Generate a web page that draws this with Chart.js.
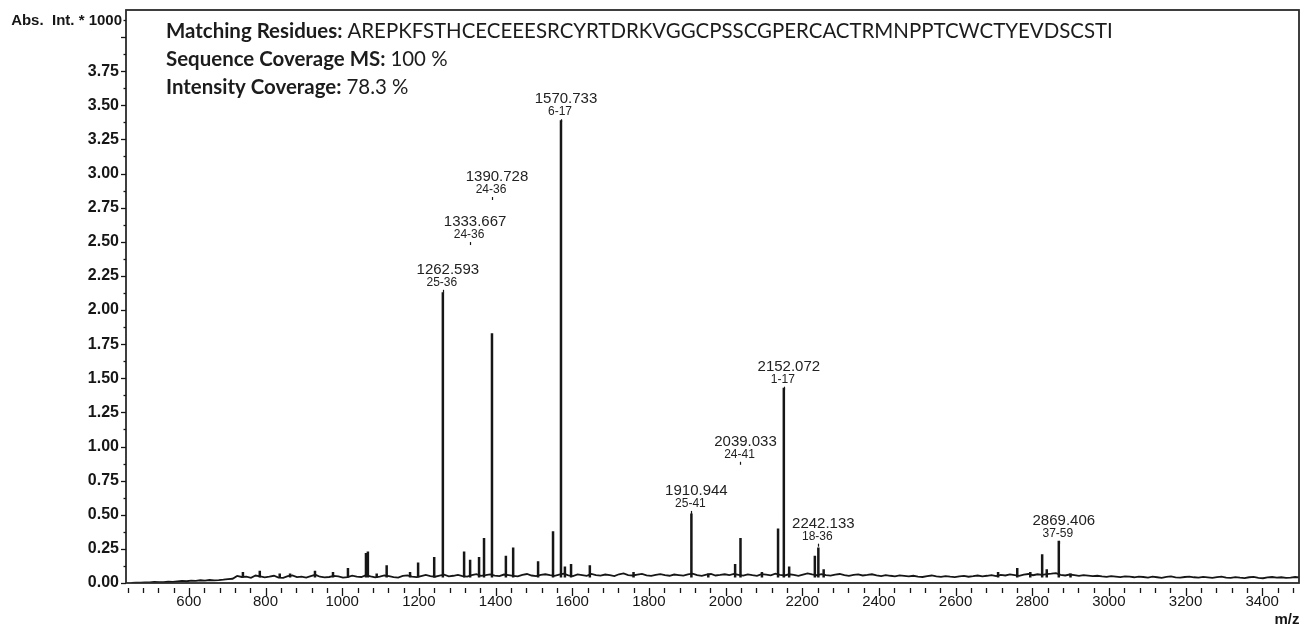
<!DOCTYPE html>
<html>
<head>
<meta charset="UTF-8">
<title>MS spectrum</title>
<style>
    html, body { margin:0; padding:0; background:#fff; }
    #wrap { width:1306px; height:627px; }
</style>
</head>
<body>
<div id="wrap"><canvas id="spec" width="1306" height="627"></canvas></div>

<script src="https://cdn.jsdelivr.net/npm/chart.js@4.4.1/dist/chart.umd.min.js"></script>
<script>
    // labelled ticks
    const xTickLabels = [600, 800, 1000, 1200, 1400, 1600, 1800, 2000, 2200, 2400, 2600, 2800, 3000, 3200, 3400];
    const yTickLabels = ['0.00', '0.25', '0.50', '0.75', '1.00', '1.25', '1.50', '1.75', '2.00',
                         '2.25', '2.50', '2.75', '3.00', '3.25', '3.50', '3.75'];

    // noise trace, one value every 12 m/z from 450
    const traceStart = 450, traceStep = 12;
    const traceInt = [
        0.000,0.002,0.003,0.005,0.004,0.008,0.006,0.007,0.009,0.008,
        0.012,0.015,0.013,0.018,0.016,0.020,0.017,0.022,0.019,0.021,
        0.024,0.028,0.031,0.052,0.044,0.047,0.038,0.055,0.049,0.041,
        0.046,0.053,0.040,0.037,0.050,0.056,0.043,0.047,0.039,0.051,
        0.060,0.046,0.041,0.044,0.052,0.048,0.039,0.043,0.054,0.047,
        0.044,0.058,0.049,0.041,0.046,0.055,0.050,0.043,0.040,0.052,
        0.056,0.047,0.043,0.051,0.059,0.050,0.046,0.054,0.061,0.049,
        0.053,0.060,0.051,0.047,0.058,0.065,0.052,0.057,0.063,0.054,
        0.050,0.062,0.058,0.053,0.048,0.060,0.066,0.055,0.051,0.059,
        0.064,0.057,0.052,0.061,0.068,0.056,0.050,0.063,0.058,0.053,
        0.066,0.058,0.054,0.062,0.057,0.051,0.064,0.070,0.058,0.055,
        0.061,0.067,0.056,0.052,0.060,0.065,0.057,0.053,0.062,0.058,
        0.054,0.063,0.068,0.057,0.052,0.061,0.066,0.055,0.059,0.064,
        0.058,0.066,0.060,0.054,0.063,0.057,0.052,0.065,0.061,0.056,
        0.068,0.060,0.055,0.064,0.059,0.053,0.062,0.070,0.063,0.057,
        0.065,0.058,0.054,0.061,0.066,0.057,0.052,0.060,0.063,0.055,
        0.059,0.064,0.056,0.051,0.058,0.053,0.049,0.056,0.052,0.048,
        0.053,0.047,0.044,0.051,0.055,0.048,0.045,0.050,0.046,0.043,
        0.049,0.052,0.046,0.050,0.055,0.049,0.053,0.058,0.051,0.060,
        0.055,0.063,0.058,0.052,0.061,0.066,0.057,0.064,0.060,0.065,
        0.068,0.072,0.060,0.055,0.062,0.057,0.052,0.058,0.054,0.050,
        0.053,0.048,0.045,0.051,0.047,0.043,0.049,0.046,0.042,0.047,
        0.044,0.040,0.046,0.042,0.038,0.045,0.048,0.041,0.039,0.044,
        0.047,0.042,0.039,0.045,0.041,0.037,0.043,0.046,0.040,0.038,
        0.043,0.039,0.036,0.042,0.045,0.038,0.035,0.041,0.044,0.039,
        0.042,0.037,0.040,0.044,0.041
    ];

    // peak sticks (m/z, intensity * 1000)
    const peakMz  = [741, 785, 837, 864, 929, 976, 1015, 1062, 1067, 1090, 1116, 1177, 1198, 1240,
                     1262.593, 1318, 1333.667, 1357, 1370, 1390.728, 1427, 1446, 1511, 1550, 1570.733,
                     1581, 1597, 1646, 1760, 1910.944, 1955, 2025, 2039.033, 2095, 2137, 2152.072,
                     2166, 2233, 2242.133, 2256, 2711, 2761, 2795, 2826, 2838, 2869.406, 2900];
    const peakInt = [0.08, 0.09, 0.07, 0.07, 0.09, 0.08, 0.11, 0.22, 0.23, 0.07, 0.13, 0.08, 0.15, 0.19,
                     2.13, 0.23, 0.17, 0.19, 0.33, 1.83, 0.20, 0.26, 0.16, 0.38, 3.39,
                     0.12, 0.14, 0.13, 0.08, 0.51, 0.07, 0.14, 0.33, 0.08, 0.40, 1.43,
                     0.12, 0.20, 0.26, 0.10, 0.08, 0.11, 0.08, 0.21, 0.10, 0.31, 0.07];
    const stickFoot = 0.04;

    // annotated peaks
    const annMz    = [1262.593, 1333.667, 1390.728, 1570.733, 1910.944, 2039.033, 2152.072, 2242.133, 2869.406];
    const annRange = ['25-36', '24-36', '24-36', '6-17', '25-41', '24-41', '1-17', '18-36', '37-59'];
    const annLevel = [2.17, 2.52, 2.85, 3.42, 0.55, 0.91, 1.46, 0.31, 0.33];

    const headerLines = [
        ['Matching Residues: ', 'AREPKFSTHCECEEESRCYRTDRKVGGCPSSCGPERCACTRMNPPTCWCTYEVDSCSTI'],
        ['Sequence Coverage MS: ', '100 %'],
        ['Intensity Coverage: ', '78.3 %']
    ];
    const yTitle = 'Abs.  Int. * 1000';
    const xTitle = 'm/z';

    const xMinorStep = 40, xMinorFrom = 440;
    const yMinorStep = 0.125;
    const ink = '#161616';
    const sans = '"Liberation Sans", Arial, sans-serif';

    var traceData = traceInt.map(function(v, i) { return {x: traceStart + i * traceStep, y: v}; });
    var stickData = [];
    for (var i = 0; i < peakMz.length; i++) {
        stickData.push({x: peakMz[i], y: stickFoot});
        stickData.push({x: peakMz[i], y: peakInt[i]});
        stickData.push({x: peakMz[i], y: null});
    }

    const decorPlugin = {
        id: 'decor',
        afterDraw: function(chart) {
            var ctx = chart.ctx, a = chart.chartArea;
            var xs = chart.scales.x, ys = chart.scales.y;
            ctx.save();

            // frame
            ctx.strokeStyle = '#2b2b2b';
            ctx.lineWidth = 1.8;
            ctx.strokeRect(a.left, a.top, a.right - a.left, a.bottom - a.top);

            // y tick marks
            ctx.lineWidth = 1.3;
            ctx.strokeStyle = ink;
            for (var k = 0; k * yMinorStep <= ys.max; k++) {
                var py = Math.round(ys.getPixelForValue(k * yMinorStep)) + 0.5;
                var len = (k % 2 === 0) ? 5 : 2.5;
                ctx.beginPath();
                ctx.moveTo(a.left - len, py);
                ctx.lineTo(a.left, py);
                ctx.stroke();
            }
            // x tick marks
            for (var v = xMinorFrom; v <= xs.max; v += xMinorStep) {
                var px = Math.round(xs.getPixelForValue(v)) + 0.5;
                var major = (v % 200 === 0);
                ctx.beginPath();
                ctx.moveTo(px, a.bottom + 5);
                ctx.lineTo(px, a.bottom + (major ? 13 : 10));
                ctx.stroke();
            }

            // peak annotations
            ctx.fillStyle = '#222';
            ctx.textAlign = 'center';
            ctx.textBaseline = 'alphabetic';
            for (var j = 0; j < annMz.length; j++) {
                var ax = xs.getPixelForValue(annMz[j]);
                var ay = ys.getPixelForValue(annLevel[j]);
                ctx.font = '15px ' + sans;
                ctx.fillText(annMz[j].toFixed(3), ax + 5, ay - 13);
                ctx.font = '12px ' + sans;
                ctx.fillText(annRange[j], ax - 1, ay - 1);
                ctx.beginPath();
                ctx.lineWidth = 1.2;
                ctx.moveTo(Math.round(ax) + 0.5, ay + 3);
                ctx.lineTo(Math.round(ax) + 0.5, ay + 6);
                ctx.stroke();
            }

            // header block
            ctx.textAlign = 'left';
            ctx.fillStyle = '#1c1c1c';
            var base = 20;
            ctx.font = 'bold ' + base + 'px Lato';
            var w1 = ctx.measureText(headerLines[0][0]).width;
            ctx.font = base + 'px Lato';
            w1 += ctx.measureText(headerLines[0][1]).width;
            var size = base * 947 / w1;
            var baselines = [38, 66, 94];
            for (var h = 0; h < headerLines.length; h++) {
                ctx.font = 'bold ' + size + 'px Lato';
                ctx.fillText(headerLines[h][0], 166, baselines[h]);
                var wb = ctx.measureText(headerLines[h][0]).width;
                ctx.font = size + 'px Lato';
                ctx.fillText(headerLines[h][1], 166 + wb, baselines[h]);
            }

            // axis titles
            ctx.fillStyle = ink;
            ctx.font = 'bold 15px ' + sans;
            ctx.textAlign = 'right';
            ctx.fillText(yTitle, 122, 25);
            ctx.textAlign = 'center';
            ctx.fillText(xTitle, 1287, 624);
            ctx.restore();
        }
    };

    new Chart(document.getElementById('spec'), {
        type: 'line',
        data: {
            datasets: [
                {data: traceData, borderColor: ink, borderWidth: 1.8, pointRadius: 0, fill: false},
                {data: stickData, borderColor: ink, borderWidth: 2.5, pointRadius: 0, fill: false, spanGaps: false}
            ]
        },
        options: {
            responsive: false,
            animation: false,
            devicePixelRatio: 1,
            events: [],
            layout: {padding: {left: 0, top: 10, right: 7, bottom: 0}},
            plugins: {legend: {display: false}, tooltip: {enabled: false}},
            scales: {
                x: {
                    type: 'linear', min: 436, max: 3496, offset: false,
                    grid: {display: false, drawTicks: false},
                    border: {display: false},
                    afterFit: function(s) { s.height = 44; s.paddingLeft = 0; s.paddingRight = 0; },
                    afterBuildTicks: function(s) { s.ticks = xTickLabels.map(function(v) { return {value: v}; }); },
                    ticks: {
                        padding: 10, maxRotation: 0, autoSkip: false, color: ink,
                        font: {family: sans, size: 15},
                        callback: function(v) { return String(v); }
                    }
                },
                y: {
                    type: 'linear', min: 0, max: 4.198,
                    grid: {display: false, drawTicks: false},
                    border: {display: false},
                    afterFit: function(s) { s.width = 126; s.paddingTop = 0; s.paddingBottom = 0; },
                    afterBuildTicks: function(s) { s.ticks = yTickLabels.map(function(t) { return {value: parseFloat(t)}; }); },
                    ticks: {
                        padding: 7, autoSkip: false, color: ink,
                        font: {family: sans, size: 16, weight: 'bold'},
                        callback: function(v) { return v.toFixed(2); }
                    }
                }
            }
        },
        plugins: [decorPlugin]
    });
</script>
</body>
</html>
